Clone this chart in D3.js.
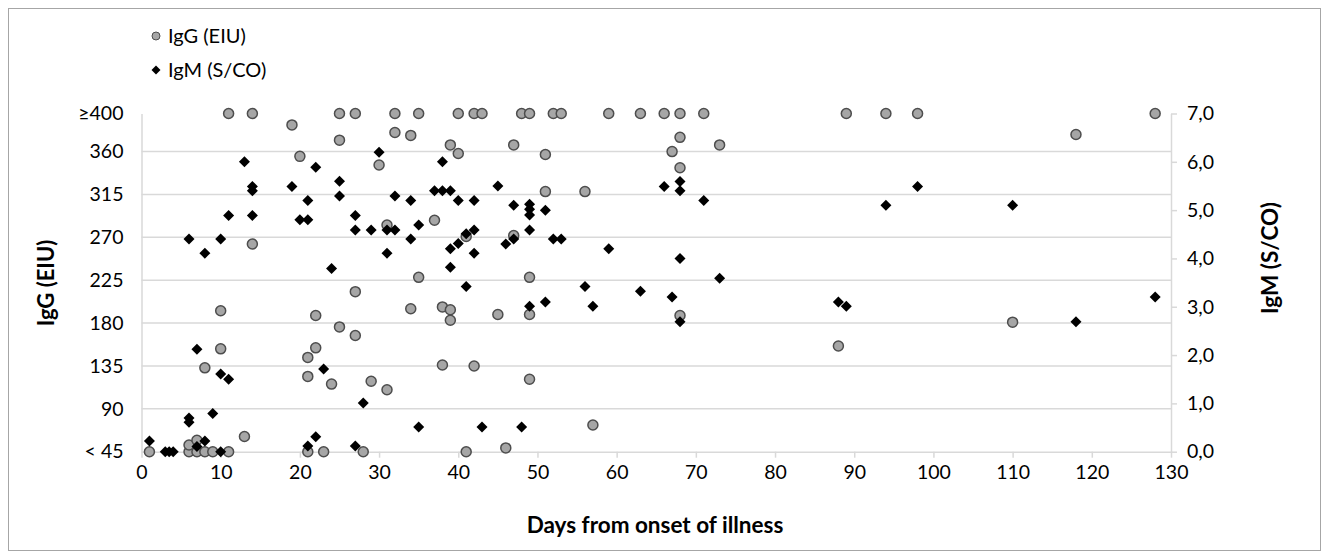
<!DOCTYPE html>
<html>
<head>
<meta charset="utf-8">
<script src="https://cdn.jsdelivr.net/npm/d3@7"></script>
<style>
  body { margin: 0; background: #fff; }
  text { font-family: Lato, "Open Sans", sans-serif; }
</style>
</head>
<body>
<div id="chart"></div>
<script>
// IgG (EIU) readings, values below 45 are drawn on the "< 45" line
const iggDays = [1, 6, 6, 7, 7, 8, 8, 9, 10, 10, 11, 11, 13, 14, 14, 19, 20, 21, 21, 21,
  22, 22, 23, 24, 25, 25, 25, 27, 27, 27, 28, 29, 30, 31, 31, 32, 32, 34, 34, 35, 35,
  37, 38, 38, 39, 39, 39, 40, 40, 41, 41, 42, 42, 43, 45, 46, 47, 47, 48, 49, 49, 49, 49,
  51, 51, 52, 53, 56, 57, 59, 63, 66, 67, 68, 68, 68, 68, 71, 73, 88, 89, 94, 98, 110, 118, 128]
const iggValues = [45, 45, 52, 45, 57, 45, 133, 45, 193, 153, 45, 400, 61, 400, 263, 388, 355, 144, 124, 45,
  188, 154, 45, 116, 400, 372, 176, 400, 213, 167, 45, 119, 346, 283, 110, 400, 380, 377, 195, 400, 228,
  288, 197, 136, 367, 194, 183, 400, 358, 271, 45, 400, 135, 400, 189, 49, 367, 272, 400, 400, 228, 189, 121,
  357, 318, 400, 400, 318, 73, 400, 400, 400, 360, 400, 375, 343, 188, 400, 367, 156, 400, 400, 400, 181, 378, 400]

// IgM (S/CO) readings
const igmDays = [1, 3, 3.5, 4, 6, 6, 6, 7, 7, 8, 8, 9, 10, 10, 10, 11, 11, 13, 14, 14, 14,
  19, 20, 21, 21, 21, 22, 22, 23, 24, 25, 25, 27, 27, 27, 28, 29, 30, 31, 31, 32, 32,
  34, 34, 35, 35, 37, 38, 38, 39, 39, 39, 40, 40, 41, 41, 42, 42, 42, 43, 45, 46, 47, 47,
  48, 49, 49, 49, 49, 49, 51, 51, 52, 53, 56, 57, 59, 63, 66, 67, 68, 68, 68, 68, 71, 73,
  88, 89, 94, 98, 110, 118, 128]
const igmValues = [0.22, 0, 0, 0, 4.40, 0.70, 0.61, 2.12, 0.11, 4.11, 0.22, 0.79, 4.40, 1.61, 0, 4.89, 1.50, 6.0, 5.49, 5.40, 4.89,
  5.49, 4.80, 4.80, 5.20, 0.12, 5.89, 0.31, 1.71, 3.79, 5.60, 5.29, 4.89, 4.59, 0.12, 1.01, 4.59, 6.20, 4.59, 4.11, 5.29, 4.59,
  5.20, 4.40, 4.69, 0.51, 5.40, 6.0, 5.40, 5.40, 4.20, 3.82, 5.20, 4.31, 4.51, 3.42, 5.20, 4.59, 4.11, 0.51, 5.50, 4.30, 5.10, 4.40,
  0.51, 5.12, 5.02, 4.90, 4.59, 3.01, 5.0, 3.10, 4.40, 4.40, 3.42, 3.01, 4.20, 3.32, 5.49, 3.20, 5.59, 5.40, 4.0, 2.69, 5.20, 3.59,
  3.10, 3.01, 5.10, 5.49, 5.10, 2.69, 3.20]

// axis ticks
const dayTicks = [0, 10, 20, 30, 40, 50, 60, 70, 80, 90, 100, 110, 120, 130]
const iggTicks = [45, 90, 135, 180, 225, 270, 315, 360, 400]
const iggTickLabels = ["< 45", "90", "135", "180", "225", "270", "315", "360", "\u2265400"]
const igmTicks = [0, 1, 2, 3, 4, 5, 6, 7]

const width = 1324
const height = 559
const plotLeft = 141.5, plotRight = 1171, plotTop = 113.5, plotBottom = 451.7

const svg = d3.select("#chart")
  .append("svg")
    .attr("width", width)
    .attr("height", height)

// outer frame
svg.append("rect")
  .attr("x", 8.5).attr("y", 8.5)
  .attr("width", 1312).attr("height", 542)
  .attr("fill", "none")
  .attr("stroke", "#a6a6a6")

const x = d3.scaleLinear().domain([0, 130]).range([plotLeft, plotRight])
const yL = d3.scaleLinear().domain([45, 400]).range([plotBottom, plotTop])
const yR = d3.scaleLinear().domain([0, 7]).range([plotBottom, plotTop])

// horizontal grid lines
svg.append("g")
  .selectAll("line")
  .data(iggTicks.slice(1, -1))
  .join("line")
    .attr("x1", plotLeft).attr("x2", plotRight)
    .attr("y1", d => yL(d)).attr("y2", d => yL(d))
    .attr("stroke", "#d9d9d9")
    .attr("stroke-width", 1.5)

const styleAxis = g => {
  g.select(".domain").attr("stroke", "#d9d9d9").attr("stroke-width", 1.5)
  g.selectAll(".tick line").attr("stroke", "#d9d9d9").attr("stroke-width", 1.5)
  g.selectAll(".tick text")
    .attr("fill", "#000")
    .style("font-size", "19.5px")
    .style("font-family", "Lato, 'Open Sans', sans-serif")
}

svg.append("g")
  .attr("transform", `translate(0,${plotBottom})`)
  .call(d3.axisBottom(x).tickValues(dayTicks).tickSize(6).tickPadding(7).tickSizeOuter(0))
  .call(styleAxis)

svg.append("g")
  .attr("transform", `translate(${plotLeft},0)`)
  .call(d3.axisLeft(yL).tickValues(iggTicks).tickFormat((d, i) => iggTickLabels[i])
    .tickSize(0).tickPadding(18))
  .call(styleAxis)

svg.append("g")
  .attr("transform", `translate(${plotRight},0)`)
  .call(d3.axisRight(yR).tickValues(igmTicks).tickFormat(d => d3.format(".1f")(d).replace(".", ","))
    .tickSize(6).tickPadding(10).tickSizeOuter(0))
  .call(styleAxis)

// axis titles
svg.append("text")
  .attr("x", 655).attr("y", 533)
  .attr("text-anchor", "middle")
  .style("font-size", "22.5px").style("font-weight", "bold")
  .text("Days from onset of illness")

svg.append("text")
  .attr("transform", "translate(54,283) rotate(-90)")
  .attr("text-anchor", "middle")
  .style("font-size", "22px").style("font-weight", "bold")
  .text("IgG (EIU)")

svg.append("text")
  .attr("transform", "translate(1278,258) rotate(-90)")
  .attr("text-anchor", "middle")
  .style("font-size", "22.5px").style("font-weight", "bold")
  .text("IgM (S/CO)")

// diamond path, square turned 45 degrees
const diamond = r => `M0,${-r}L${r},0L0,${r}L${-r},0Z`

const igg = iggDays.map((d, i) => ({day: d, value: iggValues[i]}))
const igm = igmDays.map((d, i) => ({day: d, value: igmValues[i]}))

svg.append("g")
  .selectAll("circle")
  .data(igg)
  .join("circle")
    .attr("cx", d => x(d.day))
    .attr("cy", d => yL(Math.max(45, d.value)))
    .attr("r", 5)
    .attr("fill", "#a6a6a6")
    .attr("stroke", "#4d4d4d")
    .attr("stroke-width", 1.5)

svg.append("g")
  .selectAll("path")
  .data(igm)
  .join("path")
    .attr("transform", d => `translate(${x(d.day)},${yR(d.value)})`)
    .attr("d", diamond(5.5))
    .attr("fill", "#000")

// legend
const legend = svg.append("g")
legend.append("circle")
  .attr("cx", 156).attr("cy", 36).attr("r", 4)
  .attr("fill", "#a6a6a6").attr("stroke", "#4d4d4d").attr("stroke-width", 1)
legend.append("path")
  .attr("transform", "translate(156,70)")
  .attr("d", diamond(4.5))
  .attr("fill", "#000")
legend.append("text")
  .attr("x", 168).attr("y", 36).attr("dy", "0.35em")
  .style("font-size", "20px")
  .text("IgG (EIU)")
legend.append("text")
  .attr("x", 168).attr("y", 70).attr("dy", "0.35em")
  .style("font-size", "20px")
  .text("IgM (S/CO)")
</script>
</body>
</html>
